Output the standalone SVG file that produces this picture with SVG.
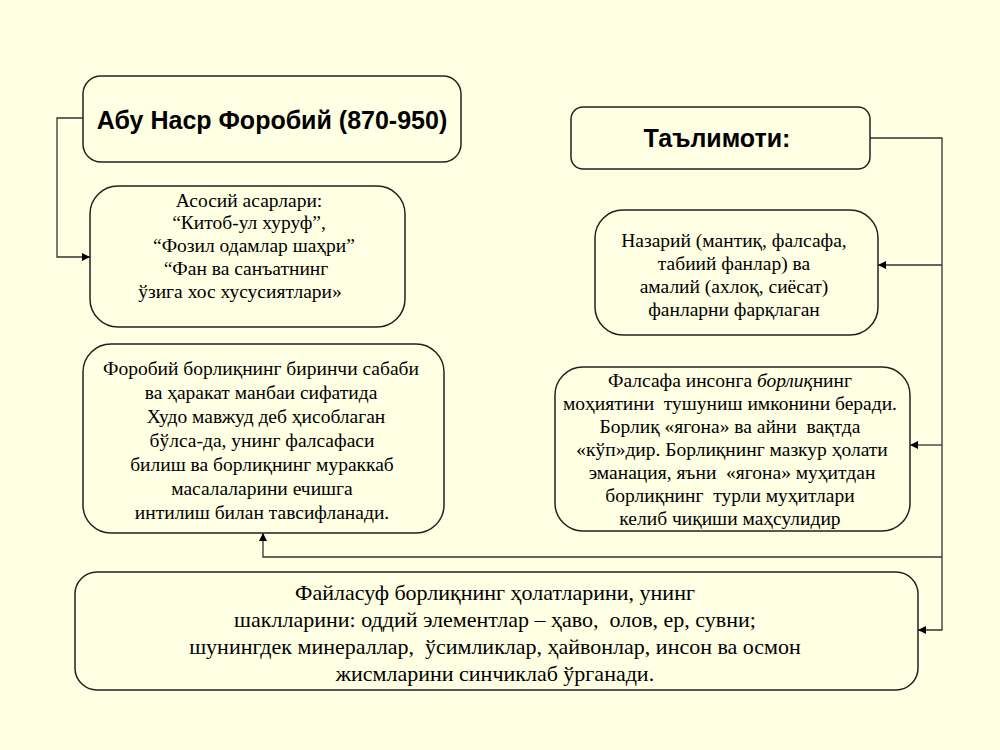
<svg xmlns="http://www.w3.org/2000/svg" width="1000" height="750" viewBox="0 0 1000 750">
<style>
.b{fill:none;stroke:#222;stroke-width:1.5}
.c{fill:none;stroke:#333;stroke-width:1.3}
.t{font-family:"Liberation Serif",serif;font-size:19.5px;fill:#000;text-anchor:middle}
.h{font-family:"Liberation Sans",sans-serif;font-size:25px;font-weight:bold;fill:#000;text-anchor:middle}
</style>
<defs><marker id="a" viewBox="0 0 10 10" refX="10" refY="5" markerWidth="8" markerHeight="8" markerUnits="userSpaceOnUse" orient="auto"><path d="M0,0L10,5L0,10z" fill="#000"/></marker></defs>
<rect width="1000" height="750" fill="#FFFFE3"/>
<g id="connectors">
<path class="c" d="M83,118H57V257H90" marker-end="url(#a)"/>
<path class="c" d="M870,138H942V630H918" marker-end="url(#a)"/>
<path class="c" d="M942,265H878" marker-end="url(#a)"/>
<path class="c" d="M942,445H910" marker-end="url(#a)"/>
<path class="c" d="M942,557H263V533" marker-end="url(#a)"/>
</g>
<g id="title"><rect class="b" x="83" y="76" width="378" height="86" rx="18"/><text class="h" x="272" y="129">Абу Наср Форобий (870-950)</text></g>
<g id="talimoti"><rect class="b" x="571" y="107" width="299" height="62" rx="12"/><text class="h" x="717" y="147">Таълимоти:</text></g>
<g id="asarlari"><rect class="b" x="90" y="186" width="315" height="141" rx="28"/>
<text class="t"><tspan x="249" y="207">Асосий асарлари:</tspan><tspan x="249" y="229">“Китоб-ул хуруф”,</tspan><tspan x="254" y="252">“Фозил одамлар шаҳри”</tspan><tspan x="246" y="275">“Фан ва санъатнинг</tspan><tspan x="240" y="298">ўзига хос хусусиятлари»</tspan></text></g>
<g id="nazariy"><rect class="b" x="595" y="210" width="283" height="125" rx="28"/>
<text class="t"><tspan x="734" y="247">Назарий (мантиқ, фалсафа,</tspan><tspan x="734" y="270">табиий фанлар) ва</tspan><tspan x="734" y="293">амалий (ахлоқ, сиёсат)</tspan><tspan x="734" y="316">фанларни фарқлаган</tspan></text></g>
<g id="forobiy"><rect class="b" x="83" y="344" width="361" height="189" rx="28"/>
<text class="t"><tspan x="261" y="375">Форобий борлиқнинг биринчи сабаби</tspan><tspan x="261" y="399">ва ҳаракат манбаи сифатида</tspan><tspan x="266" y="423">Худо мавжуд деб ҳисоблаган</tspan><tspan x="262" y="447">бўлса-да, унинг фалсафаси</tspan><tspan x="262" y="471">билиш ва борлиқнинг мураккаб</tspan><tspan x="262" y="495">масалаларини ечишга</tspan><tspan x="262" y="519">интилиш билан тавсифланади.</tspan></text></g>
<g id="falsafa"><rect class="b" x="555" y="367" width="355" height="164" rx="28"/>
<text class="t" xml:space="preserve"><tspan x="730" y="387">Фалсафа инсонга <tspan font-style="italic">борлиқ</tspan>нинг</tspan><tspan x="730" y="410">моҳиятини  тушуниш имконини беради.</tspan><tspan x="730" y="433">Борлиқ «ягона» ва айни  вақтда</tspan><tspan x="732" y="456">«кўп»дир. Борлиқнинг мазкур ҳолати</tspan><tspan x="732" y="479">эманация, яъни  «ягона» муҳитдан</tspan><tspan x="730" y="502">борлиқнинг  турли муҳитлари</tspan><tspan x="730" y="525">келиб чиқиши маҳсулидир</tspan></text></g>
<g id="failasuf"><rect class="b" x="75" y="572" width="843" height="118" rx="22"/>
<text class="t" style="font-size:22px" xml:space="preserve"><tspan x="495" y="600">Файласуф борлиқнинг ҳолатларини, унинг</tspan><tspan x="495" y="627">шаклларини: оддий элементлар – ҳаво,  олов, ер, сувни;</tspan><tspan x="495" y="654">шунингдек минераллар,  ўсимликлар, ҳайвонлар, инсон ва осмон</tspan><tspan x="495" y="681">жисмларини синчиклаб ўрганади.</tspan></text></g>
</svg>
